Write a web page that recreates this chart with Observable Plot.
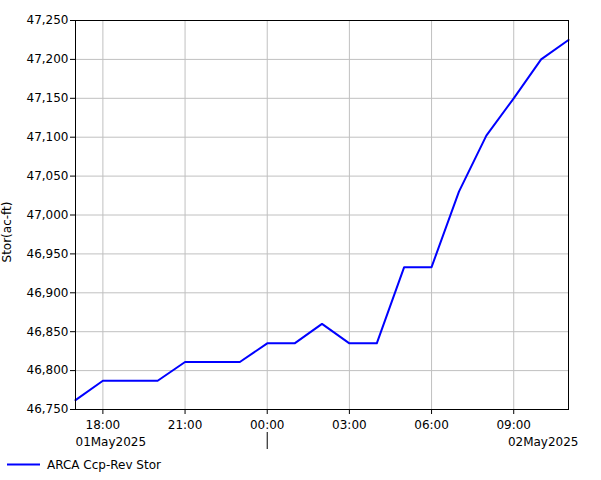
<!DOCTYPE html>
<html>
<head>
<meta charset="utf-8">
<script src="https://cdn.jsdelivr.net/npm/d3@7"></script>
<script src="https://cdn.jsdelivr.net/npm/@observablehq/plot@0.6"></script>
<style>
  body { margin: 0; background: #fff; font-family: "DejaVu Sans", sans-serif; }
  #legend { position: relative; height: 28px; font-size: 12px; }
</style>
</head>
<body>
<div id="chart"></div>
<div id="legend"></div>
<script>
const times = ["2025-05-01T17:00","2025-05-01T18:00","2025-05-01T19:00","2025-05-01T20:00","2025-05-01T21:00","2025-05-01T22:00","2025-05-01T23:00","2025-05-02T00:00","2025-05-02T01:00","2025-05-02T02:00","2025-05-02T03:00","2025-05-02T04:00","2025-05-02T05:00","2025-05-02T06:00","2025-05-02T07:00","2025-05-02T08:00","2025-05-02T09:00","2025-05-02T10:00","2025-05-02T11:00"];
const storage = [46762, 46787, 46787, 46787, 46811, 46811, 46811, 46835, 46835, 46860, 46835, 46835, 46933, 46933, 47030, 47102, 47150, 47200, 47225];
const yTicks = [46750, 46800, 46850, 46900, 46950, 47000, 47050, 47100, 47150, 47200, 47250];
const xTickLabels = ["2025-05-01T18:00","2025-05-01T21:00","2025-05-02T00:00","2025-05-02T03:00","2025-05-02T06:00","2025-05-02T09:00"];
const dateLabels = ["01May2025", "02May2025"];
const seriesName = "ARCA Ccp-Rev Stor";
const yLabel = "Stor(ac-ft)";

const parse = s => new Date(s + ":00Z");
const data = times.map((t, i) => ({t: parse(t), v: storage[i]}));
const xTicks = xTickLabels.map(parse);
const x0 = parse(times[0]), x1 = parse(times[times.length - 1]);
const midnight = parse("2025-05-02T00:00");
const fmt = d3.format(",");

const chart = Plot.plot({
  width: 601,
  height: 452,
  marginLeft: 75,
  marginRight: 33,
  marginTop: 20,
  marginBottom: 43,
  style: {fontFamily: "DejaVu Sans, sans-serif", fontSize: "12px", color: "#000", background: "#fff"},
  x: {type: "utc", domain: [x0, x1], ticks: xTicks, tickFormat: d3.utcFormat("%H:%M"), label: null},
  y: {domain: [46750, 47250], ticks: yTicks, tickFormat: fmt, label: null},
  marks: [
    Plot.gridX(xTicks, {stroke: "#c0c0c0", strokeOpacity: 1, strokeWidth: 1}),
    Plot.gridY(yTicks, {stroke: "#c0c0c0", strokeOpacity: 1, strokeWidth: 1}),
    Plot.line(data, {x: "t", y: "v", stroke: "#0000ff", strokeWidth: 2}),
    Plot.frame({stroke: "#000", strokeWidth: 1}),
    Plot.axisX(xTicks, {tickSize: 5, tickPadding: 6, tickFormat: d3.utcFormat("%H:%M"), fontSize: 12, fill: "#000", stroke: "#000"}),
    Plot.axisY(yTicks, {tickSize: 5, tickPadding: 2, tickFormat: fmt, fontSize: 12, fill: "#000", stroke: "#000", label: null}),
    Plot.text([dateLabels[0]], {x: () => x0, frameAnchor: "bottom", textAnchor: "start", dy: 36, fontSize: 12, fill: "#000"}),
    Plot.text([dateLabels[1]], {x: () => x1, frameAnchor: "bottom", textAnchor: "end", dx: 10, dy: 36, fontSize: 12, fill: "#000"}),
    Plot.ruleX([midnight], {stroke: "#000", strokeWidth: 1, dy: 40, insetTop: 372}),
    Plot.text([yLabel], {frameAnchor: "left", textAnchor: "middle", rotate: -90, dx: -68, dy: 17, fontSize: 12, fill: "#000"})
  ]
});
document.getElementById("chart").appendChild(chart);

const leg = document.getElementById("legend");
leg.innerHTML = `<svg width="601" height="28" style="display:block">
  <line x1="7" x2="40" y1="12.5" y2="12.5" stroke="#0000ff" stroke-width="2"></line>
  <text x="47" y="16.5" font-family="DejaVu Sans, sans-serif" font-size="12" fill="#000">${seriesName}</text>
</svg>`;
</script>
</body>
</html>
